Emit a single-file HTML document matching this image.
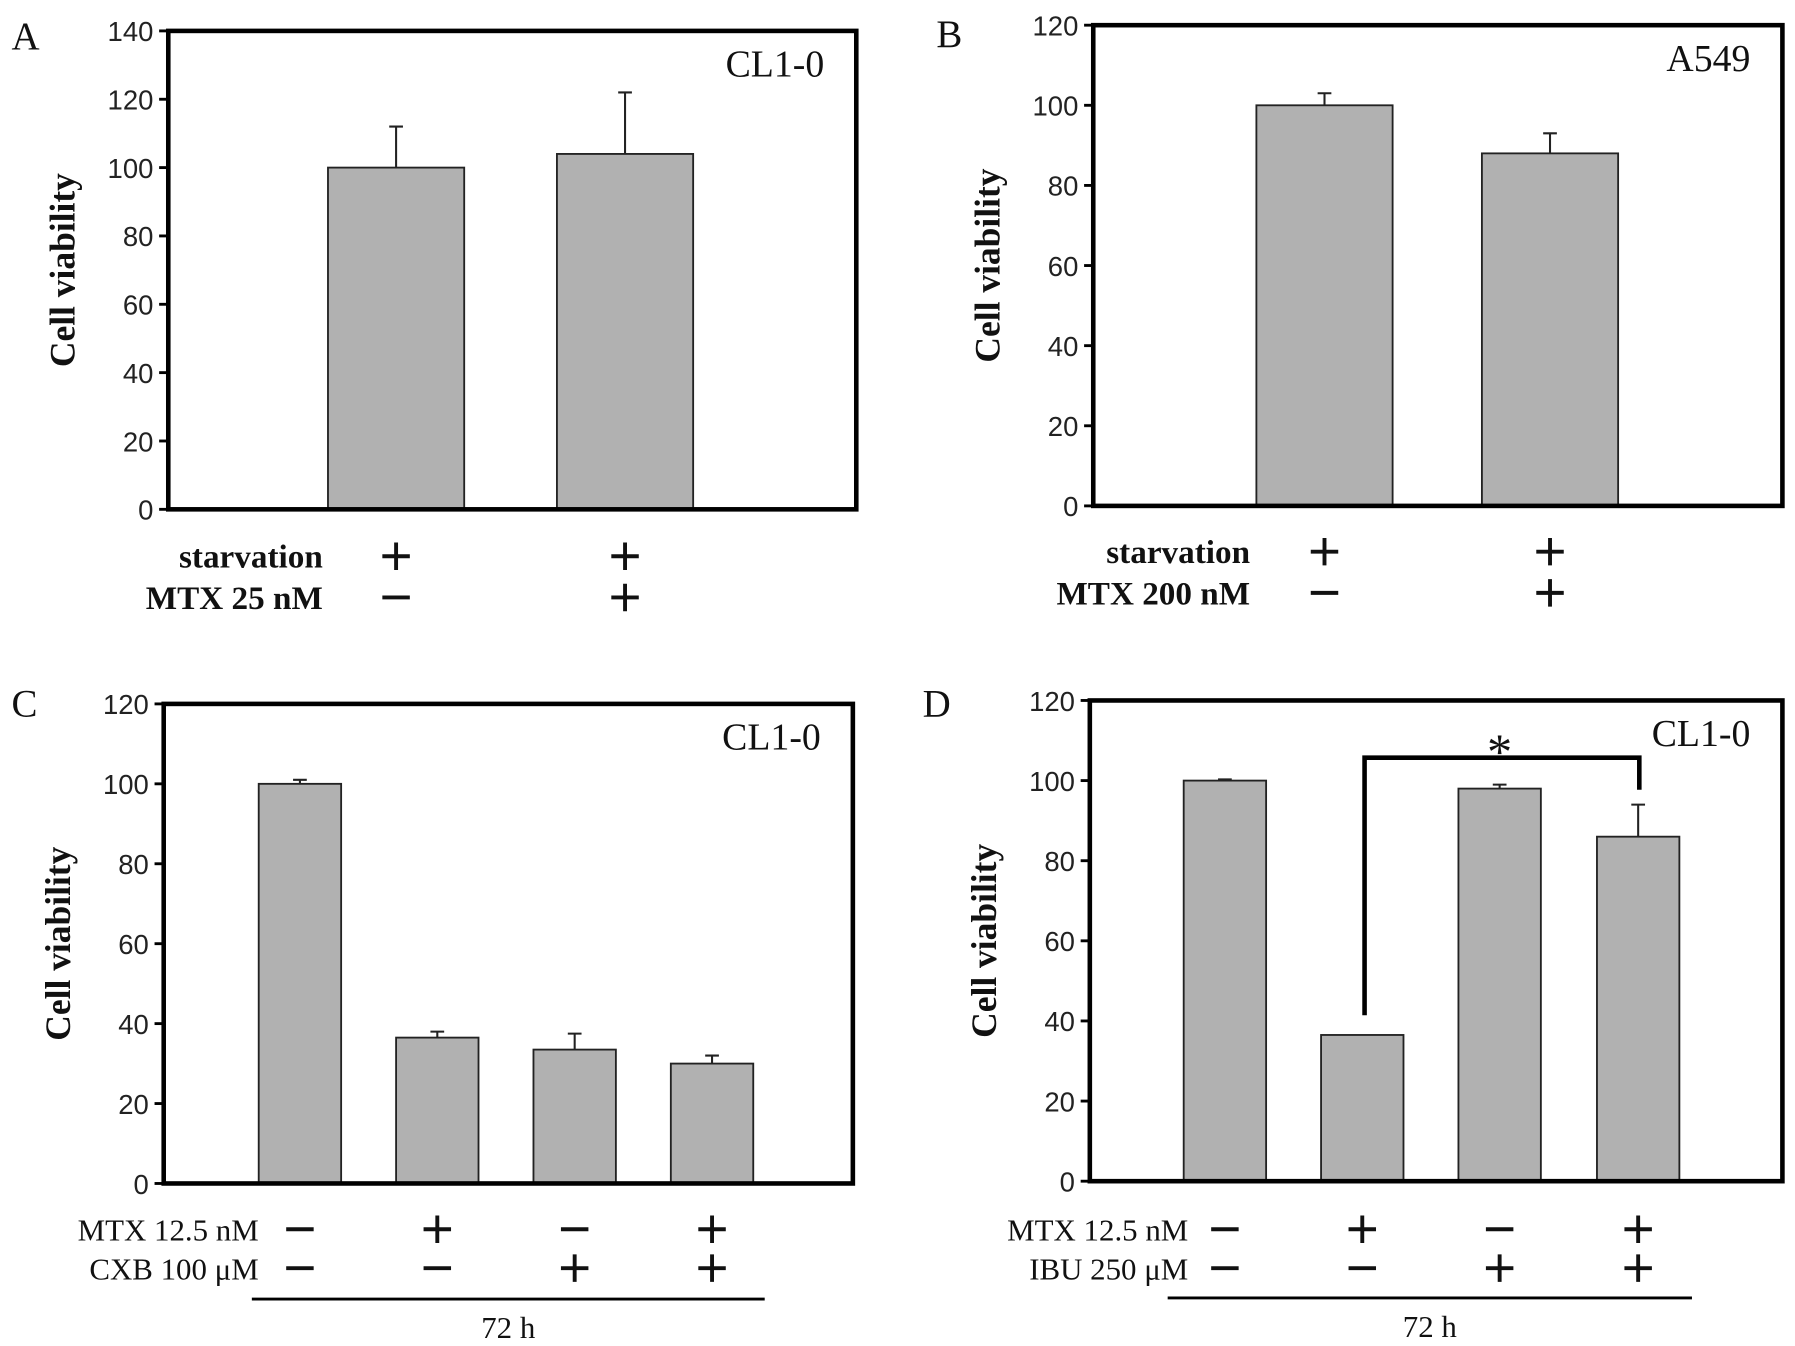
<!DOCTYPE html>
<html><head><meta charset="utf-8"><style>
html,body{margin:0;padding:0;background:#fff}
svg{display:block}
.tick{font-family:"Liberation Sans",sans-serif;font-size:24px;fill:#222}
.ser{font-family:"Liberation Serif",serif;fill:#111}
</style></head><body>
<svg id="fig" width="1795" height="1346" viewBox="0 0 1568 1176" preserveAspectRatio="none"></svg>
<script>
// Panel data
const catsA = ["starv", "starv+MTX25"];
const valsA = [100, 104];
const errsA = [112, 122];
const catsB = ["starv", "starv+MTX200"];
const valsB = [100, 88];
const errsB = [103, 93];
const catsC = ["ctrl", "MTX", "CXB", "MTX+CXB"];
const valsC = [100, 36.5, 33.5, 30];
const errsC = [101, 38, 37.5, 32];
const catsD = ["ctrl", "MTX", "IBU", "MTX+IBU"];
const valsD = [100, 36.5, 98, 86];
const errsD = [100.3, 36.5, 99, 94];
const ticksA = [0, 20, 40, 60, 80, 100, 120, 140];
const ticks120 = [0, 20, 40, 60, 80, 100, 120];

const NS = "http://www.w3.org/2000/svg";
const svg = document.getElementById("fig");
function el(tag, attrs, parent, text) {
  const e = document.createElementNS(NS, tag);
  for (const k in attrs) e.setAttribute(k, attrs[k]);
  if (text !== undefined) e.textContent = text;
  (parent || svg).appendChild(e);
  return e;
}

function panel(p) {
  const g = el("g", {});
  
  
  const ymax = p.ticks[p.ticks.length - 1];
  const y = v => p.bottom - (v / ymax) * (p.bottom - p.top);
  p.vals.forEach((v, i) => {
    const cx = p.centers[i];
    const b = el("rect", {x: cx - p.bw / 2, y: y(v), width: p.bw, height: p.bottom - y(v), fill: "#b1b1b1", stroke: "#222", "stroke-width": 1.6}, g);
    
    
    if (p.errs[i] > v + 0.2) {
      const e = el("path", {d: `M${cx},${y(v)}V${y(p.errs[i])}M${cx - 6},${y(p.errs[i])}H${cx + 6}`, stroke: "#222", "stroke-width": 1.8, fill: "none"}, g);
      
      
    }
  });
  const f = el("rect", {x: p.left, y: p.top, width: p.right - p.left, height: p.bottom - p.top, fill: "none", stroke: "#000", "stroke-width": 4}, g);
  
  
  p.ticks.forEach(t => {
    el("line", {x1: p.left - 8, x2: p.left, y1: y(t), y2: y(t), stroke: "#000", "stroke-width": 2.5}, g);
    const tl = el("text", {x: p.left - 13, y: y(t) + 9, "text-anchor": "end", class: "tick"}, g, String(t));
    
    
  });
  const lab = el("text", {x: p.lx, y: p.ly, class: "ser", "font-size": 34}, g, p.id);
  
  
  const yl = el("text", {transform: `translate(${p.left - 82},${(p.top + p.bottom) / 2}) rotate(-90)`, "text-anchor": "middle", class: "ser", "font-size": 31, "font-weight": "bold"}, g, "Cell viability");
  
  
  const ct = el("text", {x: p.right - 28, y: p.top + 40, "text-anchor": "end", class: "ser", "font-size": 33}, g, p.cell);
  
  
  p.rows.forEach((r, ri) => {
    const ry = p.rowY[ri];
    const rl = el("text", {x: p.rowX, y: ry + 10, "text-anchor": "end", class: "ser", "font-size": p.bold ? 29 : 27, "font-weight": p.bold ? "bold" : "normal"}, g, r.label);
    
    
    r.signs.forEach((s, i) => {
      const cx = p.centers[i];
      const sg = el("path", {d: s === "+" ? `M${cx - 12},${ry}H${cx + 12}M${cx},${ry - 12}V${ry + 12}` : `M${cx - 12},${ry}H${cx + 12}`, stroke: "#111", "stroke-width": 3.4}, g);
      
      
    });
  });
  if (p.line) {
    el("line", {x1: p.line[0], x2: p.line[1], y1: p.line[2], y2: p.line[2], stroke: "#000", "stroke-width": 2.5}, g);
    const th = el("text", {x: (p.line[0] + p.line[1]) / 2, y: p.line[2] + 34, "text-anchor": "middle", class: "ser", "font-size": 27}, g, "72 h");
    
    
  }
  return {g, y};
}

panel({id: "A", left: 147, top: 27, right: 748, bottom: 445, ticks: ticksA, cats: catsA, vals: valsA, errs: errsA,
  centers: [346, 546], bw: 119, lx: 10, ly: 43, cell: "CL1-0", bold: true, rowX: 282, rowY: [486, 522],
  rows: [{label: "starvation", signs: ["+", "+"]}, {label: "MTX 25 nM", signs: ["-", "+"]}]});
panel({id: "B", left: 955, top: 22, right: 1557, bottom: 442, ticks: ticks120, cats: catsB, vals: valsB, errs: errsB,
  centers: [1157, 1354], bw: 119, lx: 818, ly: 41, cell: "A549", bold: true, rowX: 1092, rowY: [482, 518],
  rows: [{label: "starvation", signs: ["+", "+"]}, {label: "MTX 200 nM", signs: ["-", "+"]}]});
panel({id: "C", left: 143, top: 615, right: 745, bottom: 1034, ticks: ticks120, cats: catsC, vals: valsC, errs: errsC,
  centers: [262, 382, 502, 622], bw: 72, lx: 10, ly: 626, cell: "CL1-0", bold: false, rowX: 226, rowY: [1074, 1108],
  rows: [{label: "MTX 12.5 nM", signs: ["-", "+", "-", "+"]}, {label: "CXB 100 μM", signs: ["-", "-", "+", "+"]}],
  line: [220, 668, 1135]});
const d = panel({id: "D", left: 952, top: 612, right: 1557, bottom: 1032, ticks: ticks120, cats: catsD, vals: valsD, errs: errsD,
  centers: [1070, 1190, 1310, 1431], bw: 72, lx: 806, ly: 626, cell: "CL1-0", bold: false, rowX: 1038, rowY: [1074, 1108],
  rows: [{label: "MTX 12.5 nM", signs: ["-", "+", "-", "+"]}, {label: "IBU 250 μM", signs: ["-", "-", "+", "+"]}],
  line: [1020, 1478, 1134]});
const br = el("path", {d: "M1192,887V662H1432V690", stroke: "#000", "stroke-width": 4, fill: "none"}, d.g);


const st = el("text", {x: 1310, y: 672, "text-anchor": "middle", class: "ser", "font-size": 44}, d.g, "*");


</script>
</body></html>
